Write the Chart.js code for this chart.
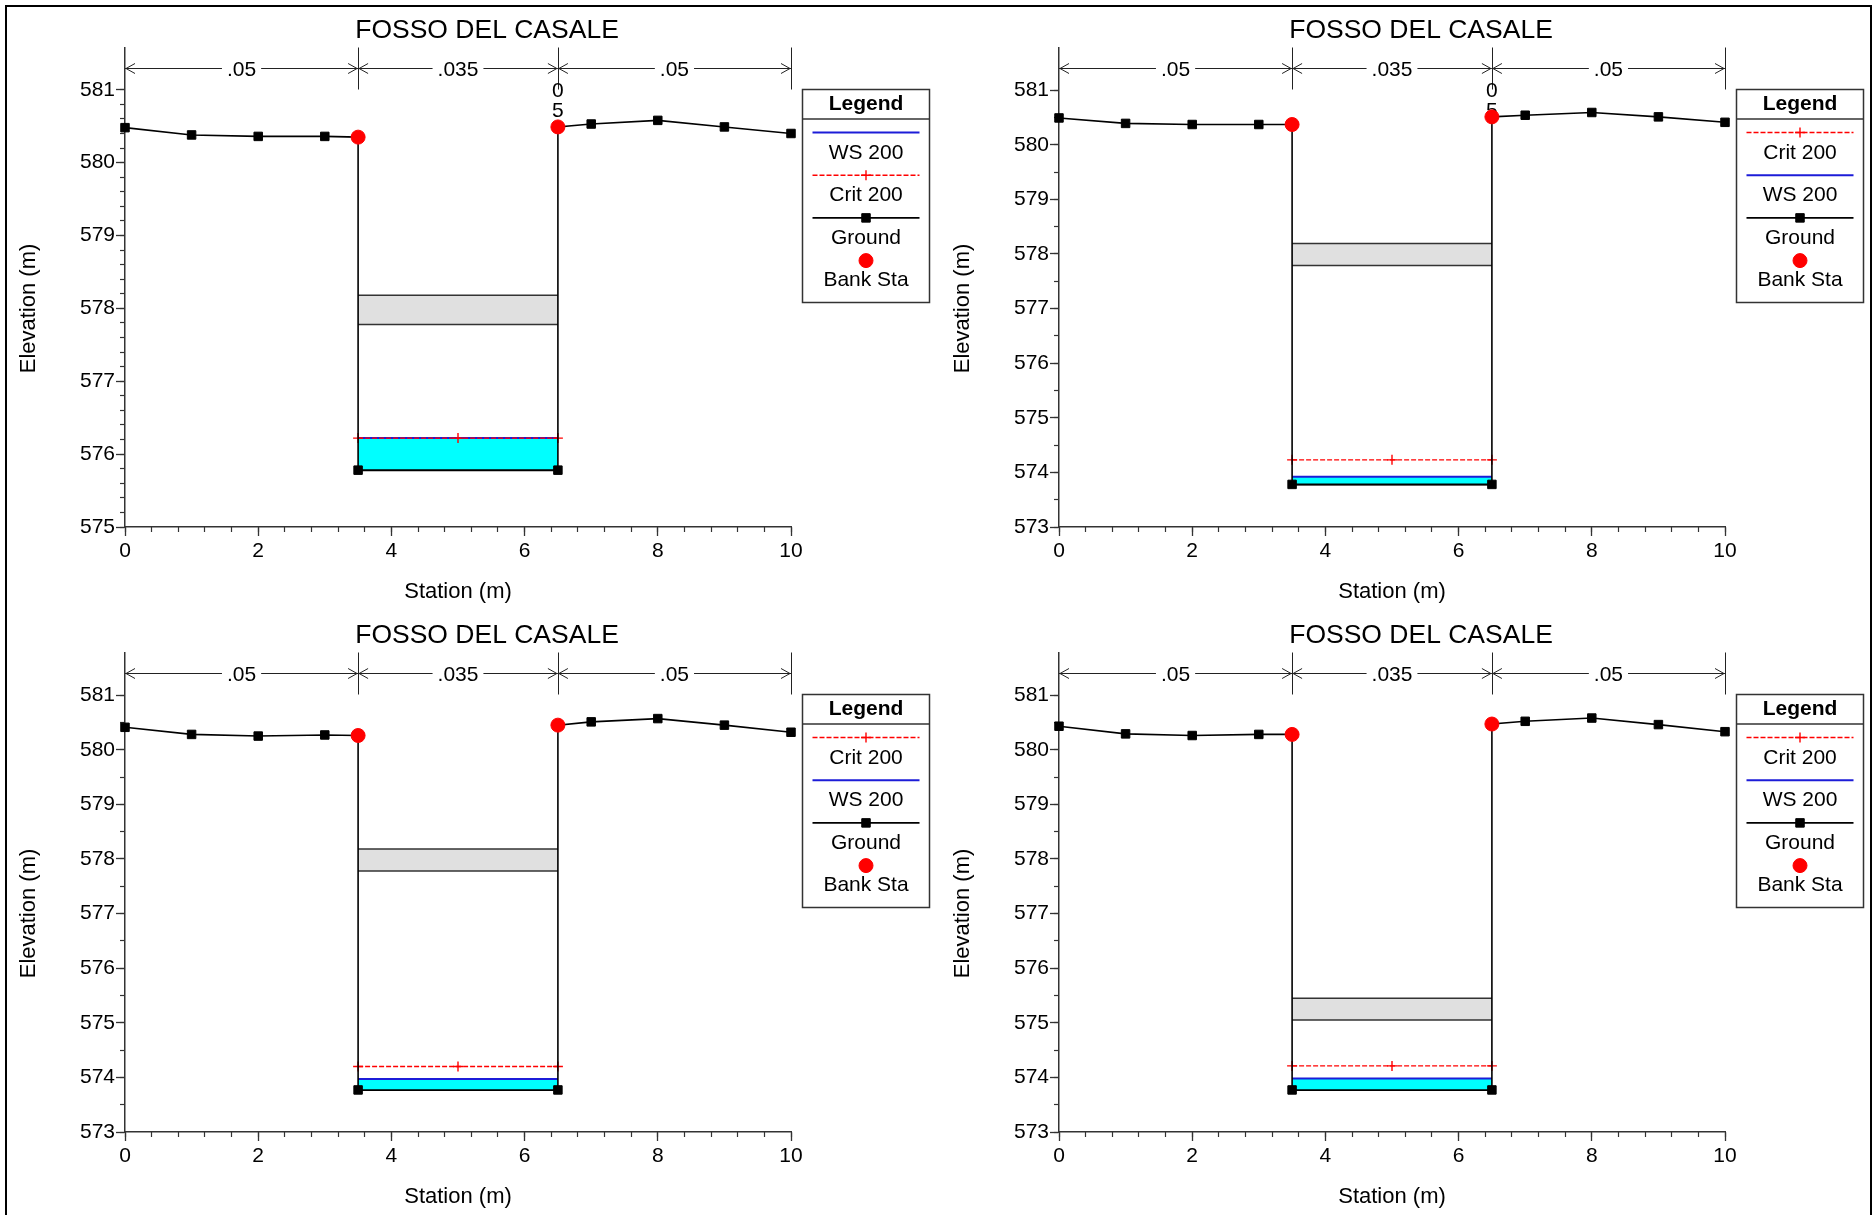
<!DOCTYPE html>
<html>
<head>
<meta charset="utf-8">
<title>Fosso del Casale - sezioni</title>
<script src="https://cdn.jsdelivr.net/npm/chart.js@4.4.1/dist/chart.umd.min.js"></script>
<style>
  html, body { margin: 0; padding: 0; background: #fff; overflow: hidden; }
  #frame { position: absolute; left: 5px; top: 5px; width: 1863px; height: 1260px; border: 2px solid #000; }
  canvas { position: absolute; }
</style>
</head>
<body>
<div id="frame"></div>
<canvas id="sec0" width="934" height="605" style="left:0;top:0"></canvas>
<canvas id="sec1" width="934" height="605" style="left:934px;top:0"></canvas>
<canvas id="sec2" width="934" height="605" style="left:0;top:605px"></canvas>
<canvas id="sec3" width="934" height="605" style="left:934px;top:605px"></canvas>
<script>
// ==================== DATA ====================
const TITLE = "FOSSO DEL CASALE";
const X_TITLE = "Station (m)";
const Y_TITLE = "Elevation (m)";

// ground stations (the two banks are repeated for the vertical channel walls)
const stations = [0, 1, 2, 3, 3.5, 3.5, 6.5, 6.5, 7, 8, 9, 10];
const groundP1 = [580.48, 580.38, 580.36, 580.36, 580.35, 575.78, 575.78, 580.49, 580.53, 580.58, 580.49, 580.40];
const groundP2 = [580.49, 580.39, 580.37, 580.37, 580.37, 573.78, 573.78, 580.51, 580.54, 580.59, 580.51, 580.41];
const groundP3 = [580.41, 580.28, 580.25, 580.27, 580.26, 573.77, 573.77, 580.45, 580.51, 580.57, 580.45, 580.32];
const groundP4 = [580.43, 580.29, 580.26, 580.28, 580.28, 573.77, 573.77, 580.47, 580.52, 580.58, 580.46, 580.33];
const grounds = [groundP1, groundP2, groundP3, groundP4];
const bankIdx = [4, 7];
const bedIdx = [5, 6];

const critStations = [3.5, 5, 6.5];
const wsElev = [576.22, 573.92, 573.97, 573.98];
const critElev = [576.22, 574.23, 574.20, 574.21];
const deckTop = [578.18, 578.19, 578.18, 575.45];
const deckBottom = [577.78, 577.79, 577.78, 575.05];

const yMin = [575, 573, 573, 573];
const yMax = [581.58, 581.78, 581.78, 581.78];
const xTicks = [0, 2, 4, 6, 8, 10];
const yTicksP1 = [575, 576, 577, 578, 579, 580, 581];
const yTicksP2 = [573, 574, 575, 576, 577, 578, 579, 580, 581];
const yTicks = [yTicksP1, yTicksP2, yTicksP2, yTicksP2];
const xMinorStep = 0.4;
const yMinorStep = [0.2, 0.5, 0.5, 0.5];

const nStations = [0, 3.5, 6.5, 10];
const nValues = [".05", ".035", ".05"];

const legendP1 = ["WS 200", "Crit 200", "Ground", "Bank Sta"];
const legendP2 = ["Crit 200", "WS 200", "Ground", "Bank Sta"];
const legendOrders = [legendP1, legendP2, legendP2, legendP2];
const bankNote = [["0", "5"], ["0", "5"], [], []];

// ==================== HELPERS ====================
const FONT = "'Liberation Sans', Arial, Helvetica, sans-serif";
Chart.defaults.font.family = FONT;
Chart.defaults.color = "#000";

function steps(from, to, step) {
    const out = [];
    for (let v = from; v <= to + 1e-9; v += step) out.push(Math.round(v * 1000) / 1000);
    return out;
}

function line(ctx, x0, y0, x1, y1) {
    ctx.beginPath();
    ctx.moveTo(x0, y0);
    ctx.lineTo(x1, y1);
    ctx.stroke();
}

// n-values bracket, title, axis title and boxed legend
const sectionPlugin = {
    id: "section",
    beforeDatasetsDraw(chart, args, opts) {
        const { ctx, chartArea: a, scales: { x } } = chart;
        const yLine = a.top + 21;
        ctx.save();
        ctx.strokeStyle = "#222";
        ctx.fillStyle = "#000";
        ctx.lineWidth = 1;
        ctx.font = "21px " + FONT;
        ctx.textAlign = "center";
        ctx.textBaseline = "middle";
        nStations.slice(1).forEach(s => {
            const px = Math.round(x.getPixelForValue(s)) + 0.5;
            line(ctx, px, a.top, px, a.top + 42);
        });
        for (let i = 0; i < nValues.length; i++) {
            const x0 = x.getPixelForValue(nStations[i]);
            const x1 = x.getPixelForValue(nStations[i + 1]);
            const xm = (x0 + x1) / 2;
            const w = ctx.measureText(nValues[i]).width;
            line(ctx, x0, yLine, xm - w / 2 - 5, yLine);
            line(ctx, xm + w / 2 + 5, yLine, x1, yLine);
            ctx.beginPath();
            ctx.moveTo(x0 + 10, yLine - 5); ctx.lineTo(x0 + 1, yLine); ctx.lineTo(x0 + 10, yLine + 5);
            ctx.moveTo(x1 - 10, yLine - 5); ctx.lineTo(x1 - 1, yLine); ctx.lineTo(x1 - 10, yLine + 5);
            ctx.stroke();
            ctx.fillText(nValues[i], xm, yLine + 2);
        }
        const notePx = x.getPixelForValue(6.5);
        opts.note.forEach((t, i) => ctx.fillText(t, notePx, a.top + 44 + i * 20));
        ctx.restore();
    },
    afterDraw(chart, args, opts) {
        const { ctx, chartArea: a } = chart;
        ctx.save();
        ctx.fillStyle = "#000";
        ctx.textAlign = "center";
        // title
        ctx.font = "26.5px " + FONT;
        ctx.textBaseline = "alphabetic";
        ctx.fillText(TITLE, a.left + 362, 38);
        // y title
        ctx.font = "22px " + FONT;
        ctx.textBaseline = "middle";
        ctx.translate(29, a.top + 261);
        ctx.rotate(-Math.PI / 2);
        ctx.fillText(Y_TITLE, 0, 0);
        ctx.setTransform(1, 0, 0, 1, 0, 0);

        // legend box
        const L = a.right + 11.5, T = a.top + 42, W = 127, H = 213;
        ctx.fillStyle = "#fff";
        ctx.fillRect(L, T, W, H);
        ctx.strokeStyle = "#333";
        ctx.lineWidth = 1.5;
        ctx.strokeRect(L, T, W, H);
        line(ctx, L, T + 29.5, L + W, T + 29.5);
        ctx.fillStyle = "#000";
        ctx.font = "bold 21px " + FONT;
        ctx.fillText("Legend", L + W / 2, T + 15);
        ctx.font = "21px " + FONT;
        opts.legend.forEach((label, i) => {
            const ds = chart.data.datasets.find(d => d.label === label);
            const sy = T + 43 + i * 42.7;
            const ty = T + 63.5 + i * 42.5;
            if (ds.showLine) {
                ctx.strokeStyle = ds.borderColor;
                ctx.lineWidth = ds.borderWidth;
                ctx.setLineDash(ds.borderDash || []);
                line(ctx, L + 10, sy, L + W - 10, sy);
                ctx.setLineDash([]);
            }
            if (ds.pointRadius > 0) {
                ctx.fillStyle = ds.pointBackgroundColor;
                ctx.strokeStyle = ds.pointBorderColor;
                ctx.lineWidth = ds.pointBorderWidth;
                Chart.helpers.drawPoint(ctx, {
                    pointStyle: ds.pointStyle, radius: ds.pointRadius,
                    borderWidth: ds.pointBorderWidth, rotation: 0
                }, L + W / 2, sy);
            }
            ctx.fillStyle = "#000";
            ctx.fillText(label, L + W / 2, ty);
        });
        ctx.restore();
    }
};

// ==================== CHARTS ====================
function renderSection(p) {
    const g = grounds[p];
    const at = (idx, elev) => idx.map(i => ({ x: stations[i], y: elev === undefined ? g[i] : elev }));

    const datasets = [
        { label: "Bank Sta", data: at(bankIdx), showLine: false, pointStyle: "circle",
          pointRadius: 7, pointBackgroundColor: "#ff0000", pointBorderColor: "#ff0000",
          pointBorderWidth: 1, order: 0, clip: false },
        { label: "Ground", data: stations.map((s, i) => ({ x: s, y: g[i] })), showLine: true,
          borderColor: "#000", borderWidth: 1.6, pointStyle: "rect", pointRadius: 6,
          pointBackgroundColor: "#000", pointBorderColor: "#000", pointBorderWidth: 1, order: 1, clip: false },
        { label: "Crit 200", data: critStations.map(s => ({ x: s, y: critElev[p] })), showLine: true,
          borderColor: "#ff0000", borderWidth: 1.4, borderDash: [5, 2], pointStyle: "cross",
          pointRadius: 5, pointBackgroundColor: "#ff0000", pointBorderColor: "#ff0000",
          pointBorderWidth: 1.4, order: 2, clip: false },
        { label: "WS 200", data: at(bedIdx, wsElev[p]), showLine: true, borderColor: "#1c1cd8",
          borderWidth: 2, pointRadius: 0, fill: { target: 4 }, backgroundColor: "#00ffff", order: 3 },
        { label: "bed", data: at(bedIdx), showLine: true, borderColor: "#000", borderWidth: 2.2,
          pointRadius: 0, order: 4 },
        { label: "deck top", data: at(bedIdx, deckTop[p]), showLine: true, borderColor: "#333",
          borderWidth: 1.5, pointRadius: 0, fill: { target: 6 }, backgroundColor: "#e0e0e0", order: 6 },
        { label: "deck bottom", data: at(bedIdx, deckBottom[p]), showLine: true, borderColor: "#333",
          borderWidth: 1.5, pointRadius: 0, order: 5 },
    ];

    const xMinor = steps(0, 10, xMinorStep);
    const yMinor = steps(yMin[p], 581, yMinorStep[p]);

    return new Chart(document.getElementById("sec" + p), {
        type: "scatter",
        data: { datasets },
        plugins: [sectionPlugin],
        options: {
            responsive: false,
            devicePixelRatio: 1,
            animation: false,
            events: [],
            layout: { padding: { left: 0, top: 47.5, right: 143, bottom: 0 } },
            plugins: {
                legend: { display: false },
                tooltip: { enabled: false },
                section: { legend: legendOrders[p], note: bankNote[p] },
            },
            scales: {
                x: {
                    type: "linear", min: 0, max: 10,
                    afterBuildTicks: s => { s.ticks = xTicks.map(v => ({ value: v })); },
                    afterFit: s => { s.height = 78; },
                    ticks: { autoSkip: false, maxRotation: 0, padding: 2.5, font: { size: 21 }, color: "#000",
                             callback: v => String(v) },
                    grid: { drawOnChartArea: false, tickLength: 9, tickColor: "#333", tickWidth: 1.3 },
                    border: { display: true, color: "#333", width: 1.5 },
                    title: { display: true, text: X_TITLE, font: { size: 22 }, color: "#000",
                             padding: { top: 0, bottom: 0 } },
                },
                xMinor: {
                    type: "linear", axis: "x", position: { y: yMin[p] }, min: 0, max: 10,
                    afterBuildTicks: s => { s.ticks = xMinor.map(v => ({ value: v })); },
                    ticks: { autoSkip: false, maxRotation: 0, callback: () => "" },
                    grid: { drawOnChartArea: false, tickLength: 5, tickColor: "#333", tickWidth: 1.2 },
                    border: { display: false },
                },
                y: {
                    type: "linear", min: yMin[p], max: yMax[p],
                    afterBuildTicks: s => { s.ticks = yTicks[p].map(v => ({ value: v })); },
                    afterFit: s => { s.width = 125; },
                    ticks: { autoSkip: false, padding: 1, font: { size: 21 }, color: "#000",
                             callback: v => String(v) },
                    grid: { drawOnChartArea: false, tickLength: 9, tickColor: "#333", tickWidth: 1.3 },
                    border: { display: true, color: "#333", width: 1.5 },
                },
                yMinor: {
                    type: "linear", axis: "y", position: { x: 0 }, min: yMin[p], max: yMax[p],
                    afterBuildTicks: s => { s.ticks = yMinor.map(v => ({ value: v })); },
                    ticks: { autoSkip: false, callback: () => "" },
                    grid: { drawOnChartArea: false, tickLength: 5, tickColor: "#333", tickWidth: 1.2 },
                    border: { display: false },
                },
            },
        },
    });
}

const charts = [0, 1, 2, 3].map(renderSection);
</script>
</body>
</html>
